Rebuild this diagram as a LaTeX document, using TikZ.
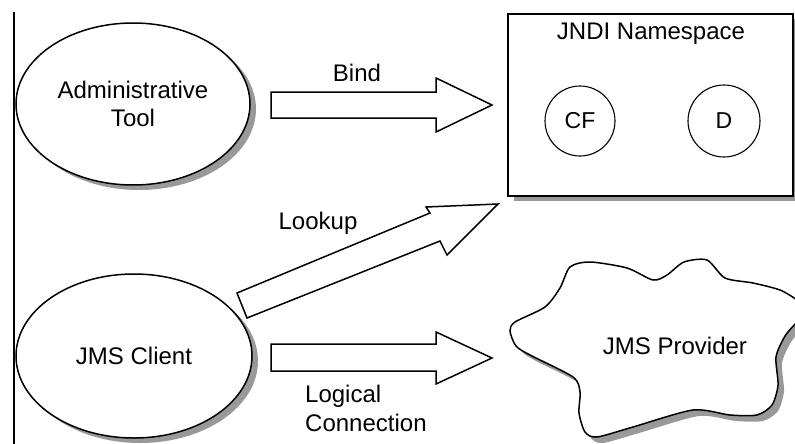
\documentclass[tikz,border=0pt]{standalone}
\usepackage{fontspec}
\setmainfont{Liberation Sans}
\usetikzlibrary{shapes.geometric,shadows}
\definecolor{shadowc}{HTML}{999999}
\begin{document}
\begin{tikzpicture}[x=1pt,y=-1pt,
  lbl/.style={font=\fontsize{24}{28}\selectfont, inner sep=0pt, align=center},
  outline/.style={draw=black, line width=1.5pt, fill=white, line join=miter},
  shade6/.style={general shadow={shadow xshift=6pt, shadow yshift=-5pt, fill=shadowc}},
  ell/.style={ellipse, outline, shade6, inner sep=0pt, lbl},
  small/.style={circle, draw=black, line width=1.1pt, inner sep=0pt, minimum size=#1, font=\fontsize{23}{26}\selectfont}]
\useasboundingbox (0,0) rectangle (795,444);
\fill[white] (0,0) rectangle (795,444);
\draw[line width=1.5pt] (14,12) -- (14,444);

% ellipses
\node[ell, minimum width=234pt, minimum height=162pt] (admin) at (133,104) {Administrative\\Tool};
\node[ell, minimum width=236pt, minimum height=164pt] (client) at (134,356) {JMS Client};

% JNDI box
\node[rectangle, outline, shade6, minimum width=285pt, minimum height=182pt, inner sep=0pt] (jndi) at (650.5,105) {};
\node[lbl] (jnditxt) at (651,34) {JNDI Namespace};
\node[small=70pt] (cf) at (580,121) {CF};
\node[small=72pt] (d) at (724,121) {D};

% cloud
\draw[outline, general shadow={shadow xshift=6pt, shadow yshift=-6pt, fill=shadowc}]
  plot[smooth cycle, tension=0.45] coordinates {
  (510,331) (516,346) (530,355) (573,377) (580,392) (579,413) (585,432) (597,437)
  (633,427) (693,410) (730,415) (757,415) (772,405) (778,385) (776,357)
  (785,336) (797,322) (808,310) (797,300) (780,290) (753,283)
  (725,278) (707,260) (684,262) (667,275) (653,280) (627,268) (590,262)
  (570,267) (560,288) (545,307) (515,322)};
\node[lbl] (provider) at (675,346) {JMS Provider};

% block arrows
\draw[outline] (271,92) -- (436,92) -- (436,78) -- (492,105) -- (436,132) -- (436,118) -- (271,118) -- cycle;
\draw[outline] (271,344) -- (436,344) -- (436,332) -- (492,358) -- (436,384) -- (436,371) -- (271,371) -- cycle;
\draw[outline] (237,293) -- (430,213) -- (426,207) -- (498,204) -- (447,255) -- (440,241) -- (247,318) -- cycle;

% labels
\node[lbl] (bind) at (357,73) {Bind};
\node[lbl] (lookup) at (318,223) {Lookup};
\node[lbl, anchor=west] (logical) at (305,396) {Logical};
\node[lbl, anchor=west] (conn) at (305,423) {Connection};
\end{tikzpicture}
\end{document}
